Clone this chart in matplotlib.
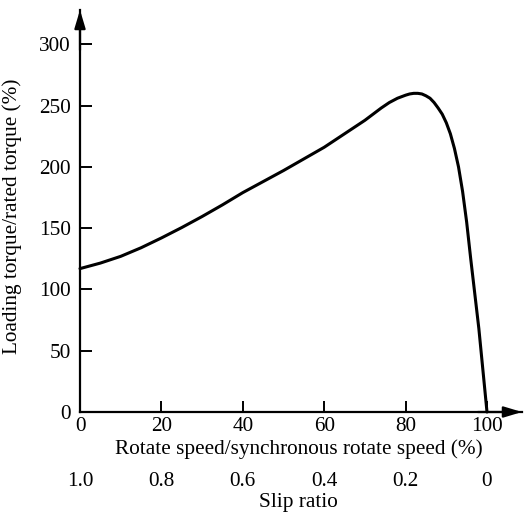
import matplotlib
matplotlib.use("Agg")
import matplotlib.pyplot as plt

# Data
speed = [0, 5, 10, 15, 20, 25, 30, 35, 40, 45, 50, 55, 60, 65, 70, 74, 76, 78, 80, 81,
         82, 83, 84, 85, 86, 87, 88, 89, 90, 91, 92, 93, 94, 95, 96, 98, 100]
torque = [117, 121.5, 127, 134, 142, 150.5, 159.5, 169, 179, 188, 197, 206.5, 216, 227,
          238, 248, 252.5, 256, 258.5, 259.5, 260, 260, 259.5, 258, 256, 252.5, 248, 243,
          236, 227, 215, 200, 180, 155, 125, 68, 0]

x_ticks = [0, 20, 40, 60, 80, 100]
y_ticks = [0, 50, 100, 150, 200, 250, 300]
slip_ticks = [1.0, 0.8, 0.6, 0.4, 0.2, 0.0]
slip_labels = ["1.0", "0.8", "0.6", "0.4", "0.2", "0"]

plt.rcParams['font.family'] = ['Liberation Serif', 'DejaVu Serif']
FS = 15.3

W, H = 524, 515
fig = plt.figure(figsize=(W / 100, H / 100), dpi=100)
ax = fig.add_axes([80 / W, (H - 412) / H, 442 / W, 402 / H])

ax.plot(speed, torque, color='black', lw=2.2, solid_capstyle='round',
        solid_joinstyle='round', clip_on=False)

ax.set_xlim(0, 108.6)
ax.set_ylim(0, 328)

for s in ['top', 'right']:
    ax.spines[s].set_visible(False)
for s in ['left', 'bottom']:
    ax.spines[s].set_linewidth(1.6)

ax.set_xticks(x_ticks)
ax.set_yticks(y_ticks)
ax.tick_params(axis='x', direction='in', length=8, width=1.4, pad=3.5, labelsize=FS)
ax.tick_params(axis='y', direction='in', length=8.5, width=1.4, pad=6.5, labelsize=FS)

# axis arrows
arrow_kw = dict(arrowstyle='-|>,head_length=1.0,head_width=0.3', color='black',
                lw=1.6, shrinkA=0, shrinkB=0, mutation_scale=11)
ax.annotate('', xy=(0, 1), xytext=(0, 0.9), xycoords='axes fraction',
            arrowprops=arrow_kw, annotation_clip=False)
ax.annotate('', xy=(1, 0), xytext=(0.9, 0), xycoords='axes fraction',
            arrowprops=arrow_kw, annotation_clip=False)

ax.set_xlabel('Rotate speed/synchronous rotate speed (%)', fontsize=FS)
ax.xaxis.set_label_coords((299 - 80) / 442, -(439 - 412) / 402)
ax.set_ylabel('Loading torque/rated torque (%)', fontsize=FS)
ax.yaxis.set_label_coords(-(80 - 22) / 442, (412 - 216.7) / 402)

# Slip ratio secondary axis
sec = ax.secondary_xaxis(-(472 - 412) / 402,
                         functions=(lambda v: 1 - v / 100, lambda s: (1 - s) * 100))
sec.set_xticks(slip_ticks)
sec.set_xticklabels(slip_labels)
sec.tick_params(axis='x', length=0, pad=0, labelsize=FS)
sec.spines['bottom'].set_visible(False)
ax.text((298 - 80) / 442, -(493 - 412) / 402, 'Slip ratio', fontsize=FS,
        ha='center', va='top', transform=ax.transAxes)

fig.savefig('out.png', dpi=100)
